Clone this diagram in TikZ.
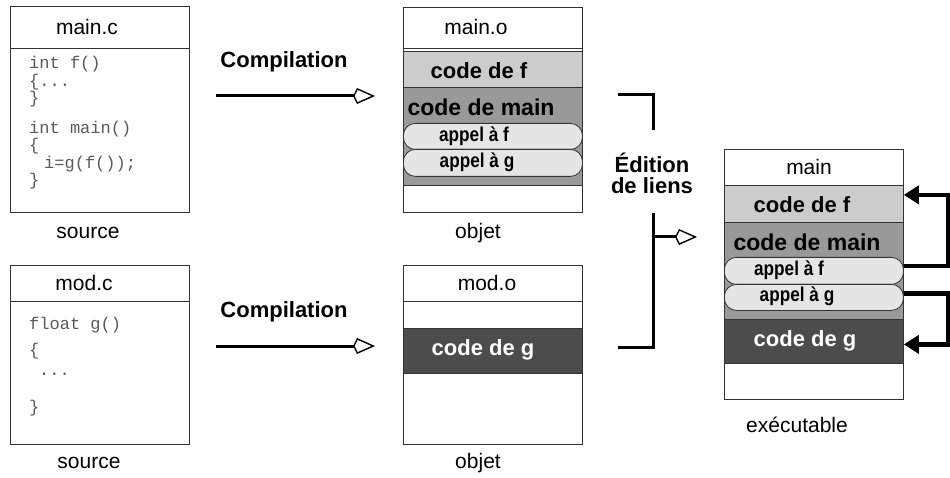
\documentclass[tikz,border=0pt]{standalone}
\usepackage{fontspec}
\setmainfont{Liberation Sans}
\setmonofont{Liberation Mono}
\newfontfamily\narrowsf[FakeStretch=0.86]{Liberation Sans}
\usetikzlibrary{arrows.meta}
\tikzset{
    filebox/.style={draw=black!80, line width=0.8pt, anchor=north west, inner sep=0pt, minimum width=179pt},
    band/.style={filebox, fill=#1},
    capsule/.style={filebox, rounded corners=12pt, fill=black!10},
    ftitle/.style={font=\fontsize{21}{24}\selectfont},
    btxt/.style={font=\fontsize{22}{21}\selectfont\bfseries},
    calltxt/.style={font=\narrowsf\bfseries\fontsize{20}{22}\selectfont},
    src/.style={font=\ttfamily\fontsize{17}{17.5}\selectfont, text=black!65, align=left, anchor=north west, inner sep=0pt},
    compil/.style={line width=3pt, -{Kite[open, length=22pt, width=16pt, inset=4pt, line width=1.4pt]}},
    brk/.style={line width=3pt},
    link/.style={line width=4.5pt, -{Triangle[length=15pt, width=18pt]}},
}
\begin{document}
\begin{tikzpicture}[x=1pt, y=-1pt]
        \useasboundingbox (0,0) rectangle (950,478);
        %source main.c
        \node[filebox, minimum height=42pt] (maincHead) at (10,6) {};
        \node[filebox, minimum height=164pt] (maincBody) at (10,48) {};
        \node[ftitle] (maincName) at (87,27) {main.c};
        \node[src] (maincCode) at (29,56) {int f()\\\{...\\\}\\[12pt]int main()\\\{\\\hspace*{15pt}i=g(f());\\\}};
        \node[ftitle] (maincCap) at (88,233) {source};
        %source mod.c
        \node[filebox, minimum height=36pt] (modcHead) at (10,265) {};
        \node[filebox, minimum height=143pt] (modcBody) at (10,301) {};
        \node[ftitle] (modcName) at (84,283) {mod.c};
        \node[src] (modcCode) at (29,317) {float g()\\[8pt]\{\\[3pt]\hspace*{10pt}...\\[19pt]\}};
        \node[ftitle] (modcCap) at (89,463) {source};
        %object main.o
        \node[filebox, minimum height=41pt] (mainoHead) at (403,7) {};
        \node[filebox, minimum height=164pt] (mainoBody) at (403,48) {};
        \node[band=black!20, minimum height=36pt] (mainoF) at (403,51) {};
        \node[band=black!40, minimum height=98pt] (mainoMain) at (403,87) {};
        \node[capsule, minimum height=26pt] (mainoCallF) at (403,123) {};
        \node[capsule, minimum height=27pt] (mainoCallG) at (403,149) {};
        \node[ftitle] (mainoName) at (476,27) {main.o};
        \node[btxt] (mainoFTxt) at (479,71) {code de f};
        \node[btxt, font=\fontsize{23}{24}\selectfont\bfseries] (mainoMainTxt) at (481,107) {code de main};
        \node[calltxt] (mainoCallFTxt) at (474,136) {appel à f};
        \node[calltxt] (mainoCallGTxt) at (477,162) {appel à g};
        \node[ftitle] (mainoCap) at (478,233) {objet};
        %object mod.o
        \node[filebox, minimum height=36pt] (modoHead) at (403,265) {};
        \node[filebox, minimum height=143pt] (modoBody) at (403,301) {};
        \node[band=black!70, minimum height=45pt] (modoG) at (403,328) {};
        \node[ftitle] (modoName) at (487,283) {mod.o};
        \node[btxt, text=white] (modoGTxt) at (483,350) {code de g};
        \node[ftitle] (modoCap) at (478,463) {objet};
        %executable
        \node[filebox, minimum height=36pt] (exeHead) at (724,149) {};
        \node[filebox, minimum height=214pt] (exeBody) at (724,185) {};
        \node[band=black!20, minimum height=37pt] (exeF) at (724,185) {};
        \node[band=black!40, minimum height=97pt] (exeMain) at (724,222) {};
        \node[capsule, minimum height=27pt] (exeCallF) at (724,257) {};
        \node[capsule, minimum height=26pt] (exeCallG) at (724,284) {};
        \node[band=black!70, minimum height=44pt] (exeG) at (724,319) {};
        \node[ftitle] (exeName) at (809,167) {main};
        \node[btxt] (exeFTxt) at (802,205) {code de f};
        \node[btxt, font=\fontsize{23}{24}\selectfont\bfseries] (exeMainTxt) at (807,242) {code de main};
        \node[calltxt] (exeCallFTxt) at (789,270) {appel à f};
        \node[calltxt] (exeCallGTxt) at (797,296) {appel à g};
        \node[btxt, text=white] (exeGTxt) at (805,341) {code de g};
        \node[ftitle] (exeCap) at (797,425) {exécutable};
        %compilation arrows
        \node[btxt] (compA) at (284,62) {Compilation};
        \coordinate (compAFrom) at (216,96);
        \coordinate (compATo) at (375,96);
        \draw[compil] (compAFrom) -- (compATo);
        \node[btxt] (compB) at (284,312) {Compilation};
        \coordinate (compBFrom) at (216,346);
        \coordinate (compBTo) at (375,346);
        \draw[compil] (compBFrom) -- (compBTo);
        %link editing bracket
        \node[btxt, align=center] (edit) at (652,173) {Édition\\de liens};
        \coordinate (edTop) at (618,95);
        \coordinate (edTopEnd) at (653,130);
        \coordinate (edBotEnd) at (653,213);
        \coordinate (edBot) at (618,347);
        \coordinate (edMid) at (653,237);
        \coordinate (edTo) at (697,237);
        \draw[brk] (edTop) -| (edTopEnd);
        \draw[brk] (edBotEnd) |- (edBot);
        \draw[compil] (edMid) -- (edTo);
        %resolved calls
        \draw[link] ([yshift=5pt]exeCallF.east) -- ++(44,0) |- ([yshift=9pt]exeF.east);
        \draw[link] ([yshift=4pt]exeCallG.east) -- ++(44,0) |- ([yshift=-3pt]exeG.east);
    \end{tikzpicture}
\end{document}
